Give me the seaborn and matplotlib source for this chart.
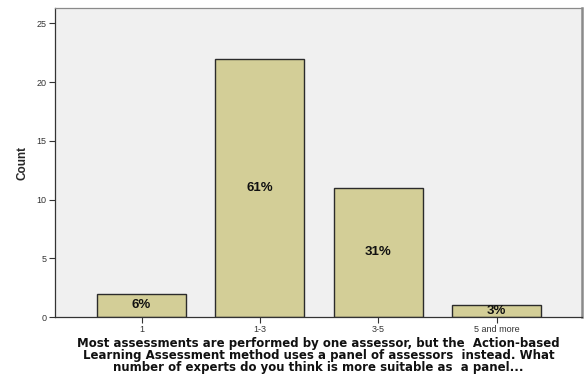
import matplotlib
matplotlib.use("Agg")
import matplotlib.pyplot as plt
import seaborn as sns
import pandas as pd

categories = ["1", "1-3", "3-5", "5 and more"]
counts = [2, 22, 11, 1]
y_ticks = [0, 5, 10, 15, 20, 25]

df = pd.DataFrame({"answer": categories, "count": counts})
total = sum(counts)

sns.set_style("white")
plt.rcParams["font.family"] = ["Liberation Sans", "DejaVu Sans"]

fig = plt.figure(figsize=(5.86, 3.82), dpi=100)
ax = fig.add_axes([0.094, 0.170, 0.899, 0.809])
ax.set_facecolor("#F0F0F0")

sns.barplot(data=df, x="answer", y="count", color="#D3CE97", width=0.75,
            edgecolor="#2B2B2B", linewidth=1.0, saturation=1, ax=ax)

for i, c in enumerate(counts):
    ax.text(i, c / 2, f"{round(100 * c / total)}%", ha="center", va="center",
            fontsize=9.5, fontweight="bold", color="#111111")

ax.set_xlim(-0.73, 3.72)
ax.set_ylim(0, 26.3)
ax.set_yticks(y_ticks)
ax.set_yticklabels([str(t) for t in y_ticks], fontsize=6.5, color="#333333")
ax.tick_params(axis="x", labelsize=6.5, labelcolor="#333333")
ax.tick_params(axis="both", which="major", bottom=True, left=True,
               direction="out", length=4, width=0.8, color="#333333", pad=2)

ax.set_ylabel("Count", fontsize=8.5, fontweight="bold", labelpad=6)
ax.set_xlabel("Most assessments are performed by one assessor, but the  Action-based\n"
              "Learning Assessment method uses a panel of assessors  instead. What\n"
              "number of experts do you think is more suitable as  a panel...",
              fontsize=8.5, fontweight="bold", linespacing=0.88, labelpad=2,
              family="DejaVu Sans", color="#111111")

for side in ["left", "bottom"]:
    ax.spines[side].set_color("#333333")
    ax.spines[side].set_linewidth(0.9)
for side in ["top", "right"]:
    ax.spines[side].set_visible(True)
    ax.spines[side].set_color("#8A8A8A")
ax.spines["top"].set_linewidth(0.9)
ax.spines["right"].set_linewidth(1.8)

fig.savefig("out.png", dpi=100, facecolor="white")
